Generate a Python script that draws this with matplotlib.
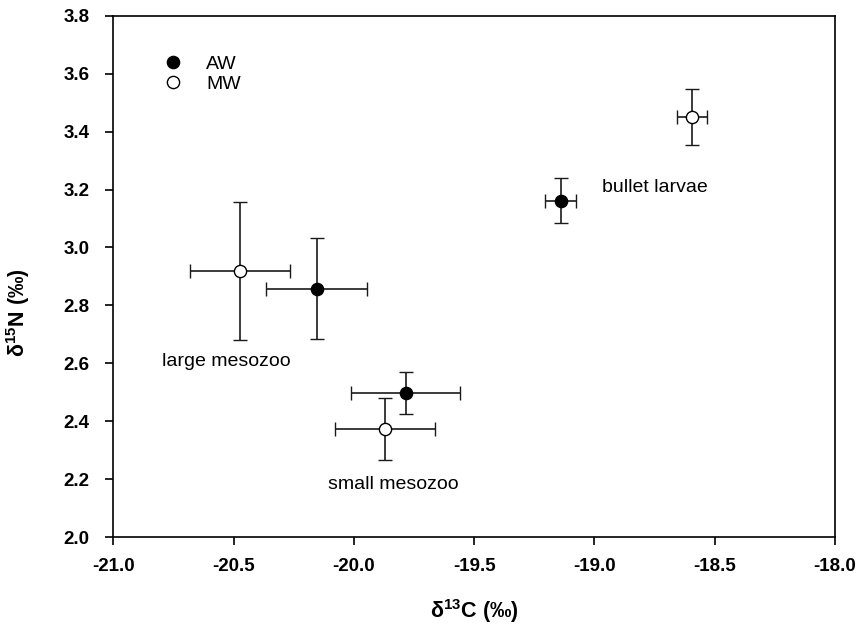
import numpy as np
import matplotlib
matplotlib.use("Agg")
import matplotlib.pyplot as plt

plt.rcParams['font.family'] = ['Liberation Sans', 'DejaVu Sans']
plt.rcParams['mathtext.default'] = 'regular'

# delta13C / delta15N means and SDs per group
groups = ['large mesozoo', 'small mesozoo', 'bullet larvae']
aw_x = [-20.155, -19.784, -19.140]
aw_y = [2.857, 2.498, 3.161]
aw_xerr = [0.210, 0.226, 0.064]
aw_yerr = [0.174, 0.073, 0.077]

mw_x = [-20.474, -19.871, -18.593]
mw_y = [2.918, 2.372, 3.451]
mw_xerr = [0.209, 0.209, 0.062]
mw_yerr = [0.238, 0.107, 0.096]

# label anchors (left/baseline) for each group
label_x = [-20.798, -20.108, -18.970]
label_y = [2.590, 2.166, 3.192]

fig = plt.figure(figsize=(8.57, 6.3), dpi=100)
ax = fig.add_axes([0.1322, 0.1476, 0.8421, 0.8274])

ebkw = dict(ls='none', marker='o', ms=8.8, ecolor='#1a1a1a', elinewidth=1.2,
            capsize=5, capthick=1.2, mec='black', mew=1.0)
ax.errorbar(aw_x, aw_y, xerr=aw_xerr, yerr=aw_yerr, mfc='black', label='AW', zorder=3, **ebkw)
ax.errorbar(mw_x, mw_y, xerr=mw_xerr, yerr=mw_yerr, mfc='white', label='MW', zorder=3, **ebkw)

for name, lx, ly in zip(groups, label_x, label_y):
    ax.text(lx, ly, name, fontsize=14, ha='left', va='baseline')

ax.set_xlim(-21, -18)
ax.set_ylim(2.0, 3.8)
ax.set_xticks(np.arange(-21, -17.9, 0.5))
ax.set_yticks(np.arange(2.0, 3.81, 0.2))
ax.set_xticklabels([f"{v:.1f}" for v in np.arange(-21, -17.9, 0.5)])
ax.set_yticklabels([f"{v:.1f}" for v in np.arange(2.0, 3.81, 0.2)])
ax.tick_params(axis='both', direction='out', length=6, width=1.2, labelsize=13.5)
ax.tick_params(axis='x', pad=9)
ax.tick_params(axis='y', pad=11)
for lab in ax.get_xticklabels() + ax.get_yticklabels():
    lab.set_fontweight('bold')
for sp in ax.spines.values():
    sp.set_linewidth(1.2)

ax.set_xlabel('δ$^{13}$C (‰)', fontsize=15.5, fontweight='bold')
ax.set_ylabel('δ$^{15}$N (‰)', fontsize=15.5, fontweight='bold')
ax.xaxis.set_label_coords(0.5, -0.116)
ax.yaxis.set_label_coords(-0.112, 0.43)

handles, labels = ax.get_legend_handles_labels()
handles = [h[0] for h in handles]
ax.legend(handles, labels, loc='upper left', bbox_to_anchor=(0.045, 0.958), frameon=False,
          fontsize=14, handlelength=1.0, handletextpad=1.2, labelspacing=0.15, numpoints=1)

fig.savefig('out.png', dpi=100)
